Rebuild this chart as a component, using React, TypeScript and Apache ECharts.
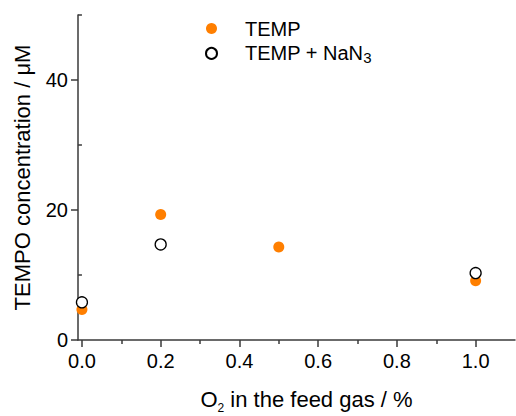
import React, { useEffect, useRef } from "react";
import * as echarts from "echarts";

const tempX = [0, 0.2, 0.5, 1.0];
const tempY = [4.7, 19.3, 14.3, 9.1];
const nan3X = [0, 0.2, 1.0];
const nan3Y = [5.8, 14.7, 10.3];

const xMajorTicks = [0, 0.2, 0.4, 0.6, 0.8, 1.0];
const xMinorTicks = [0.1, 0.3, 0.5, 0.7, 0.9];
const yMajorTicks = [0, 20, 40];
const yMinorTicks = [10, 30, 50];

const FONT = "'Liberation Sans', Arial, sans-serif";
const AXIS_COLOR = "#3a3a3a";
const ORANGE = "#FF7F00";

export default function App() {
  const ref = useRef<HTMLDivElement>(null);
  useEffect(() => {
    if (!ref.current) return;
    const chart = echarts.init(ref.current, undefined, { renderer: "svg" });
    const lineStyle = { color: AXIS_COLOR, width: 1.5 };
    const baseX = {
      type: "value" as const,
      min: -0.01,
      max: 1.1,
      position: "bottom" as const,
      splitLine: { show: false },
    };
    const baseY = {
      type: "value" as const,
      min: 0,
      max: 50,
      position: "left" as const,
      splitLine: { show: false },
    };
    chart.setOption({
      animation: false,
      textStyle: { fontFamily: FONT },
      grid: { left: 78, right: 1, top: 15, bottom: 76, outerBoundsMode: "none", containLabel: false },
      legend: {
        orient: "vertical",
        left: 205,
        top: 18.5,
        padding: 0,
        itemGap: -13.9,
        itemWidth: 11,
        itemHeight: 11,
        icon: "circle",
        data: ["TEMP", "TEMP + NaN3"],
        formatter: (name: string) =>
          name === "TEMP" ? "{a|TEMP}" : "{a|TEMP + NaN}{sub|3}",
        textStyle: {
          fontFamily: FONT,
          color: "#000",
          rich: {
            a: { fontSize: 20, lineHeight: 24, padding: [0, 0, 0, 23], fontFamily: FONT, color: "#000", verticalAlign: "middle" },
            sub: { fontSize: 15, lineHeight: 16, padding: [25.8, 0, 0, 0], fontFamily: FONT, color: "#000", verticalAlign: "bottom" },
          },
        },
      },
      xAxis: [
        {
          ...baseX,
          axisLine: { show: true, onZero: false, lineStyle },
          axisTick: { show: true, length: 7, lineStyle, customValues: xMajorTicks },
          axisLabel: {
            show: true,
            customValues: xMajorTicks,
            margin: 11,
            fontSize: 20,
            color: "#000",
            fontFamily: FONT,
            formatter: (v: number) => v.toFixed(1),
          },
          name: "{a|O}{sub|2}{a| in the feed gas / %}",
          nameLocation: "middle",
          nameGap: 48,
          nameTextStyle: {
            padding: [0, 0, 0, 20],
            rich: {
              a: { fontSize: 22, lineHeight: 26, fontFamily: FONT, color: "#000", verticalAlign: "top" },
              sub: { fontSize: 12, lineHeight: 12, padding: [19.3, 0, 0, 0], fontFamily: FONT, color: "#000", verticalAlign: "bottom" },
            },
          },
        },
        {
          ...baseX,
          axisLine: { show: false },
          axisTick: { show: true, length: 4, lineStyle, customValues: xMinorTicks },
          axisLabel: { show: false },
        },
      ],
      yAxis: [
        {
          ...baseY,
          axisLine: { show: true, onZero: false, lineStyle },
          axisTick: { show: true, length: 7, lineStyle, customValues: yMajorTicks },
          axisLabel: {
            show: true,
            customValues: yMajorTicks,
            margin: 10,
            fontSize: 20,
            color: "#000",
            fontFamily: FONT,
          },
          name: "TEMPO concentration / μM",
          nameLocation: "middle",
          nameGap: 45,
          nameTextStyle: { fontSize: 22, color: "#000", fontFamily: FONT },
        },
        {
          ...baseY,
          axisLine: { show: false },
          axisTick: { show: true, length: 4, lineStyle, customValues: yMinorTicks },
          axisLabel: { show: false },
        },
      ],
      series: [
        {
          name: "TEMP",
          type: "scatter",
          symbol: "circle",
          symbolSize: 11,
          itemStyle: { color: ORANGE, opacity: 1 },
          data: tempX.map((x, i) => [x, tempY[i]]),
        },
        {
          name: "TEMP + NaN3",
          type: "scatter",
          symbol: "circle",
          symbolSize: 11,
          itemStyle: { color: "#fff", borderColor: "#000", borderWidth: 1.3, opacity: 1 },
          data: nan3X.map((x, i) => [x, nan3Y[i]]),
        },
      ],
    });
    return () => chart.dispose();
  }, []);
  return (
    <div
      ref={ref}
      style={{ position: "fixed", left: 0, top: 0, width: 516, height: 416, background: "#fff" }}
    />
  );
}
